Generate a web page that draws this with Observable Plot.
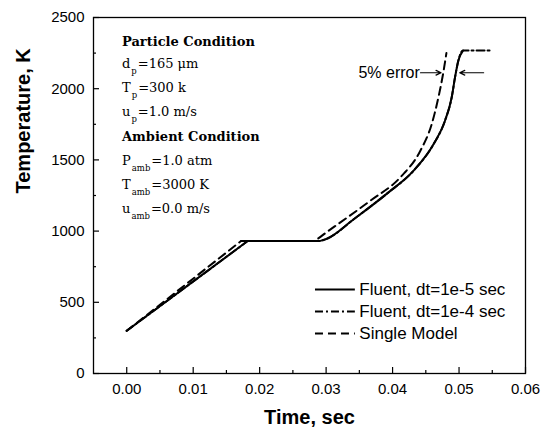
<!DOCTYPE html>
<html><head><meta charset="utf-8">
<script src="https://cdn.jsdelivr.net/npm/d3@7"></script>
<script src="https://cdn.jsdelivr.net/npm/@observablehq/plot@0.6"></script>
<style>body{margin:0;background:#fff}</style>
</head><body><div id="chart"></div>
<script>
// Fluent, dt=1e-5 sec (solid)
const fluentFineTime = [0, 0.0182, 0.0289, 0.0295, 0.0302, 0.0342, 0.0392, 0.0432, 0.0462, 0.0479, 0.0489, 0.0494, 0.0499, 0.0506];
const fluentFineTemp = [300, 930, 930, 936, 948, 1085, 1265, 1426, 1613, 1777, 1940, 2081, 2198, 2268];
// Fluent, dt=1e-4 sec (dash-dot)
const fluentCoarseTime = [0, 0.0182, 0.0289, 0.0295, 0.0302, 0.0342, 0.0392, 0.0432, 0.0462, 0.0479, 0.0489, 0.0494, 0.0499, 0.0506, 0.0547];
const fluentCoarseTemp = [300, 930, 930, 936, 948, 1085, 1265, 1426, 1613, 1777, 1940, 2081, 2198, 2268, 2268];
// Single Model (dashed)
const singleTime = [0, 0.0172, 0.0281, 0.0287, 0.0300, 0.0322, 0.0367, 0.0412, 0.0442, 0.0459, 0.0469, 0.0476, 0.0481];
const singleTemp = [300, 930, 930, 945, 990, 1063, 1215, 1379, 1566, 1753, 1940, 2105, 2250];

const xMajorTicks = [0, 0.01, 0.02, 0.03, 0.04, 0.05, 0.06];
const xMinorTicks = [0.005, 0.015, 0.025, 0.035, 0.045, 0.055];
const yMajorTicks = [0, 500, 1000, 1500, 2000, 2500];
const yMinorTicks = [250, 750, 1250, 1750, 2250];

const seriesNames = ["Fluent, dt=1e-5 sec", "Fluent, dt=1e-4 sec", "Single Model"];
const seriesDash = [null, "8,3,2,3", "8,5"];
const legendY = [590, 435, 281];

const annotationLines = [
  [["Particle Condition", "bold"]],
  [["d", ""], ["p", "sub"], ["=165 μm", ""]],
  [["T", ""], ["p", "sub"], ["=300 k", ""]],
  [["u", ""], ["p", "sub"], ["=1.0 m/s", ""]],
  [["Ambient Condition", "bold"]],
  [["P", ""], ["amb", "sub"], ["=1.0 atm", ""]],
  [["T", ""], ["amb", "sub"], ["=3000 K", ""]],
  [["u", ""], ["amb", "sub"], ["=0.0 m/s", ""]]
];
const errorLabel = "5% error";

const toRows = (t, T) => t.map((d, i) => ({t: d, T: T[i]}));
const fine = toRows(fluentFineTime, fluentFineTemp);
const coarse = toRows(fluentCoarseTime, fluentCoarseTemp);
const single = toRows(singleTime, singleTemp);

const W = 541, H = 436, mL = 93, mR = 16, mT = 17, mB = 63;
const fw = W - mL - mR, fh = H - mT - mB;

// each series: straight heating ramp (first two points) + smooth plateau/rise
const seriesMarks = (rows, dash) => [
  Plot.line(rows.slice(0, 2), {x: "t", y: "T", stroke: "#000", strokeWidth: 2, strokeDasharray: dash}),
  Plot.line(rows.slice(1), {x: "t", y: "T", stroke: "#000", strokeWidth: 2, strokeDasharray: dash, curve: "monotone-x"})
];

const legendMarks = seriesNames.flatMap((name, i) => [
  Plot.ruleY([legendY[i]], {y: d => d, x1: 0.0284, x2: 0.0344, stroke: "#000", strokeWidth: 2, strokeDasharray: seriesDash[i]}),
  Plot.text([name], {x: 0.0350, y: legendY[i], text: d => d, textAnchor: "start", fontSize: 17, fill: "#000"})
]);

const plot = Plot.plot({
  width: W, height: H,
  marginLeft: mL, marginRight: mR, marginTop: mT, marginBottom: mB,
  style: {fontFamily: "'Liberation Sans', Arial, sans-serif", fontSize: "15px", color: "#000", background: "#fff"},
  x: {domain: [-0.005, 0.06]},
  y: {domain: [0, 2500]},
  marks: [
    Plot.ruleX(xMajorTicks, {x: d => d, insetTop: fh - 6, stroke: "#000", strokeWidth: 1.2}),
    Plot.ruleX(xMinorTicks, {x: d => d, insetTop: fh - 3, stroke: "#000", strokeWidth: 1.2}),
    Plot.ruleY(yMajorTicks, {y: d => d, insetRight: fw - 6, stroke: "#000", strokeWidth: 1.2}),
    Plot.ruleY(yMinorTicks, {y: d => d, insetRight: fw - 3, stroke: "#000", strokeWidth: 1.2}),
    Plot.axisX(xMajorTicks, {tickSize: 0, tickPadding: 10, tickFormat: d3.format(".2f"), label: null, fontSize: 15}),
    Plot.axisY(yMajorTicks, {tickSize: 0, tickPadding: 9, tickFormat: d => String(d), label: null, fontSize: 15}),
    ...seriesMarks(coarse, seriesDash[1]),
    ...seriesMarks(single, seriesDash[2]),
    ...seriesMarks(fine, seriesDash[0]),
    Plot.frame({stroke: "#000", strokeWidth: 1.3}),
    ...legendMarks,
    Plot.text([errorLabel], {x: 0.0441, y: 2112, text: d => d, textAnchor: "end", fontSize: 16, fill: "#000"}),
    Plot.arrow([{x1: 0.0442, x2: 0.0473, y: 2112}, {x1: 0.0537, x2: 0.0501, y: 2112}], {x1: "x1", x2: "x2", y1: "y", y2: "y", stroke: "#000", strokeWidth: 1.2, headLength: 7, headAngle: 50}),
    Plot.text(["Time, sec"], {frameAnchor: "bottom", dy: 50, text: d => d, fontSize: 20, fontWeight: "bold", fill: "#000"}),
    Plot.text(["Temperature, K"], {frameAnchor: "left", dx: -70, dy: -2, rotate: -90, text: d => d, fontSize: 20, fontWeight: "bold", fill: "#000"})
  ]
});

// annotation block with subscripts
const svg = d3.select(plot);
const g = svg.append("g").attr("font-family", "'DejaVu Serif', serif").attr("fill", "#000").attr("text-anchor", "start");
const baselines = [45.5, 67.5, 91.5, 115.5, 140.5, 164.5, 188.5, 213];
annotationLines.forEach((parts, i) => {
  const t = g.append("text").attr("x", 122).attr("y", baselines[i]).attr("font-size", 13).attr("text-anchor", "start");
  parts.forEach(([s, kind]) => {
    const sp = t.append("tspan").text(s);
    if (kind === "bold") sp.attr("font-weight", "bold");
    if (kind === "sub") sp.attr("font-size", 8.5).attr("dy", 6).attr("dx", 1);
    else if (parts.length > 1 && s.startsWith("=")) sp.attr("dy", -6).attr("dx", 1);
  });
});

document.getElementById("chart").append(plot);
</script>
</body></html>
